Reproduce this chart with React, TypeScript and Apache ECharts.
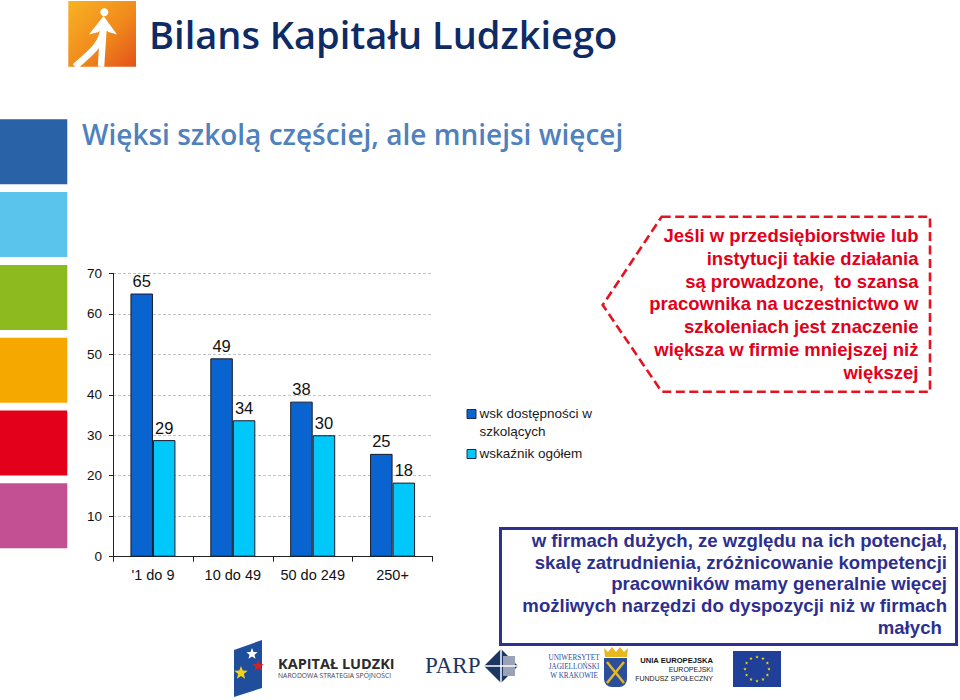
import React, { useEffect, useRef } from "react";
import * as echarts from "echarts";

const categories = ["'1 do 9", "10 do 49", "50 do 249", "250+"];
const seriesNames = ["wsk dostępności w szkolących", "wskaźnik ogółem"];
const wskDostepnosci = [65, 49, 38.3, 25.4];
const wskaznikOgolem = [28.8, 33.7, 30, 18.3];
const yMin = 0;
const yMax = 70;
const yInterval = 10;

const headerText = "Bilans Kapitału Ludzkiego";
const titleText = "Więksi szkolą częściej, ale mniejsi więcej";
const calloutLines = [
  "Jeśli w przedsiębiorstwie lub",
  "instytucji takie działania",
  "są prowadzone,  to szansa",
  "pracownika na uczestnictwo w",
  "szkoleniach jest znaczenie",
  "większa w firmie mniejszej niż",
  "większej",
];
const boxLines = [
  "w firmach dużych, ze względu na ich potencjał,",
  "skalę zatrudnienia, zróżnicowanie kompetencji",
  "pracowników mamy generalnie więcej",
  "możliwych narzędzi do dyspozycji niż w firmach",
  "małych ",
];
const stripColors = ["#2a62a8", "#5bc4ec", "#8cba1f", "#f5a800", "#e2001a", "#c45094"];

const BAR_DARK = "#0a64cf";
const BAR_LIGHT = "#00c8fa";
const SANS = "'Liberation Sans', Arial, sans-serif";
const HUMANIST = "'Open Sans', 'Noto Sans', sans-serif";

function starPoints(cx: number, cy: number, R: number, r: number, rot = -Math.PI / 2) {
  const pts: number[][] = [];
  for (let i = 0; i < 10; i++) {
    const a = rot + (i * Math.PI) / 5;
    const rad = i % 2 === 0 ? R : r;
    pts.push([cx + rad * Math.cos(a), cy + rad * Math.sin(a)]);
  }
  return pts;
}

function txt(text: string, x: number, y: number, opts: any = {}) {
  const align = opts.align || "left";
  const va = opts.va || "middle";
  return {
    type: "text",
    silent: true,
    style: {
      text,
      x,
      y,
      align,
      textAlign: align,
      verticalAlign: va,
      textVerticalAlign: va,
      fill: opts.fill || "#000",
      fontSize: opts.size || 13,
      fontWeight: opts.weight || "normal",
      fontFamily: opts.family || SANS,
      lineHeight: opts.lineHeight,
    },
  };
}

export default function App() {
  const ref = useRef<HTMLDivElement>(null);

  useEffect(() => {
    if (!ref.current) return;
    const chart = echarts.init(ref.current, null, { renderer: "svg" });

    const strips = stripColors.map((c, i) => ({
      type: "rect",
      silent: true,
      shape: { x: 0, y: 119.3 + i * 72.8, width: 67.3, height: 65 },
      style: { fill: c },
    }));

    const euStars: any[] = [];
    for (let i = 0; i < 12; i++) {
      const a = (i * Math.PI * 2) / 12;
      euStars.push({
        type: "polygon",
        silent: true,
        shape: { points: starPoints(757 + 12 * Math.cos(a), 669 + 12 * Math.sin(a), 1.8, 0.75) },
        style: { fill: "#ffdd00" },
      });
    }

    const elements: any[] = [
      ...strips,
      // header logo
      {
        type: "rect",
        silent: true,
        shape: { x: 68.3, y: 1, width: 67.7, height: 65.7 },
        style: {
          fill: new echarts.graphic.LinearGradient(0, 0, 1, 1, [
            { offset: 0, color: "#f8b323" },
            { offset: 0.55, color: "#f08a1c" },
            { offset: 1, color: "#e4521a" },
          ]),
        },
      },
      {
        type: "circle",
        silent: true,
        shape: { cx: 104.3, cy: 12.3, r: 4 },
        style: { fill: "#fff" },
      },
      {
        type: "polygon",
        silent: true,
        shape: {
          points: [
            [103.5, 16],
            [117, 34.5],
            [108.5, 32],
            [103.5, 28],
            [98.5, 32],
            [89, 34.5],
          ],
        },
        style: { fill: "#fff" },
      },
      {
        type: "bezierCurve",
        silent: true,
        shape: { x1: 103.5, y1: 27, x2: 75, y2: 66.7, cpx1: 103, cpy1: 46, cpx2: 86, cpy2: 56 },
        style: { stroke: "#fff", lineWidth: 6.5, fill: null },
      },
      {
        type: "line",
        silent: true,
        shape: { x1: 103.5, y1: 28, x2: 101, y2: 66.7 },
        style: { stroke: "#fff", lineWidth: 6.5 },
      },
      txt(headerText, 149, 34, { size: 38, weight: 600, fill: "#0e2b66", family: HUMANIST }),
      // title
      txt(titleText, 82, 134, { size: 28, weight: 600, fill: "#4f81bd", family: HUMANIST }),
      // legend
      {
        type: "rect",
        silent: true,
        shape: { x: 467, y: 409.5, width: 9, height: 9 },
        style: { fill: BAR_DARK, stroke: "#1a2a50", lineWidth: 1 },
      },
      txt("wsk dostępności w\nszkolących", 479.5, 405, { size: 13.5, fill: "#1a1a1a", va: "top", lineHeight: 17.5 }),
      {
        type: "rect",
        silent: true,
        shape: { x: 467, y: 449.5, width: 9, height: 9 },
        style: { fill: BAR_LIGHT, stroke: "#1a2a50", lineWidth: 1 },
      },
      txt("wskaźnik ogółem", 479.5, 453, { size: 13.5, fill: "#1a1a1a" }),
      // callout
      {
        type: "polygon",
        silent: true,
        shape: {
          points: [
            [661.7, 216.7],
            [930, 216.7],
            [930, 391.7],
            [661.7, 391.7],
            [602.7, 305],
          ],
        },
        style: { fill: "none", stroke: "#e3141f", lineWidth: 2.6, lineDash: [9, 4.5] },
      },
      txt(calloutLines.join("\n"), 918.5, 224, {
        align: "right",
        va: "top",
        size: 18.5,
        weight: "bold",
        fill: "#e2001a",
        lineHeight: 22.8,
      }),
      // box
      {
        type: "rect",
        silent: true,
        shape: { x: 500.5, y: 528.5, width: 456, height: 116 },
        style: { fill: "#fff", stroke: "#2e3192", lineWidth: 3 },
      },
      txt(boxLines.join("\n"), 947, 529.5, {
        align: "right",
        va: "top",
        size: 18.6,
        weight: "bold",
        fill: "#2d2f8e",
        lineHeight: 21.7,
      }),
      // footer: Kapitał Ludzki
      {
        type: "polygon",
        silent: true,
        shape: {
          points: [
            [234, 650],
            [262, 640],
            [262, 688],
            [234, 697],
          ],
        },
        style: { fill: "#1f4e9c" },
      },
      { type: "polygon", silent: true, shape: { points: starPoints(252, 654, 6, 2.6) }, style: { fill: "#ffffff" } },
      { type: "polygon", silent: true, shape: { points: starPoints(258, 666, 6, 2.6) }, style: { fill: "#d5202a" } },
      { type: "polygon", silent: true, shape: { points: starPoints(241, 673, 7, 3) }, style: { fill: "#f5d21a" } },
      txt("KAPITAŁ LUDZKI", 278, 663, { size: 14.5, weight: "bold", fill: "#2b2b2b", family: HUMANIST }),
      txt("NARODOWA STRATEGIA SPÓJNOŚCI", 278, 675.5, { size: 6.8, fill: "#444", family: HUMANIST }),
      // PARP
      txt("PARP", 425, 665, { size: 23, fill: "#1b3663", family: "'Liberation Serif', 'DejaVu Serif', serif" }),
      {
        type: "polygon",
        silent: true,
        shape: {
          points: [
            [501, 649],
            [518, 666],
            [501, 683],
            [484, 666],
          ],
        },
        style: { fill: "#1b3663" },
      },
      {
        type: "rect",
        silent: true,
        shape: { x: 503, y: 656, width: 12, height: 20 },
        style: { fill: "#9aa3b5" },
      },
      { type: "line", silent: true, shape: { x1: 484, y1: 666, x2: 518, y2: 666 }, style: { stroke: "#fff", lineWidth: 1.5 } },
      { type: "line", silent: true, shape: { x1: 501, y1: 649, x2: 501, y2: 683 }, style: { stroke: "#fff", lineWidth: 1.5 } },
      // UJ
      txt("UNIWERSYTET\nJAGIELLOŃSKI\nW KRAKOWIE", 574, 667, {
        align: "center",
        size: 7.2,
        fill: "#2b4d9a",
        family: "'Liberation Serif', 'DejaVu Serif', serif",
        lineHeight: 9,
      }),
      {
        type: "polygon",
        silent: true,
        shape: {
          points: [
            [604, 648],
            [608, 652],
            [612, 647],
            [616, 652],
            [620, 647],
            [624, 652],
            [628, 648],
            [627, 657],
            [605, 657],
          ],
        },
        style: { fill: "#e8b820" },
      },
      {
        type: "rect",
        silent: true,
        shape: { x: 604, y: 658, width: 23, height: 29, r: [0, 0, 8, 8] },
        style: { fill: "#2b4d9a" },
      },
      { type: "line", silent: true, shape: { x1: 607, y1: 662, x2: 624, y2: 683 }, style: { stroke: "#e8b820", lineWidth: 2.5 } },
      { type: "line", silent: true, shape: { x1: 624, y1: 662, x2: 607, y2: 683 }, style: { stroke: "#e8b820", lineWidth: 2.5 } },
      // EU
      txt("UNIA EUROPEJSKA", 713, 660, { align: "right", size: 7.6, weight: "bold", fill: "#111" }),
      txt("EUROPEJSKI", 713, 669.5, { align: "right", size: 7, fill: "#222" }),
      txt("FUNDUSZ SPOŁECZNY", 713, 678.5, { align: "right", size: 7, fill: "#222" }),
      {
        type: "rect",
        silent: true,
        shape: { x: 733, y: 651, width: 48, height: 36 },
        style: { fill: "#1f3f99" },
      },
      ...euStars,
    ];

    const labelCfg = {
      show: true,
      position: "top",
      distance: 4,
      color: "#111",
      fontSize: 16.5,
      fontFamily: SANS,
      formatter: (p: any) => String(Math.round(p.value)),
    };

    chart.setOption({
      animation: false,
      backgroundColor: "#ffffff",
      grid: { left: 113, top: 273.3, width: 319.5, height: 283.4, containLabel: false },
      xAxis: {
        type: "category",
        data: categories,
        axisLine: { show: true, lineStyle: { color: "#222", width: 1 } },
        axisTick: { show: true, length: 5, lineStyle: { color: "#222" } },
        axisLabel: { color: "#111", fontSize: 14.5, fontFamily: SANS, margin: 11, interval: 0, hideOverlap: false },
        splitLine: { show: false },
      },
      yAxis: {
        type: "value",
        min: yMin,
        max: yMax,
        interval: yInterval,
        axisLine: { show: true, lineStyle: { color: "#222", width: 1 } },
        axisTick: { show: true, length: 4, lineStyle: { color: "#222" } },
        axisLabel: { color: "#111", fontSize: 13.5, fontFamily: SANS, margin: 11 },
        splitLine: { show: true, lineStyle: { color: "#c4c4c4", type: [3, 2], width: 1 } },
      },
      series: [
        {
          name: seriesNames[0],
          type: "bar",
          data: wskDostepnosci,
          barWidth: 22.5,
          barGap: "0%",
          itemStyle: { color: BAR_DARK, borderColor: "#1a1a2a", borderWidth: 1 },
          label: labelCfg,
        },
        {
          name: seriesNames[1],
          type: "bar",
          data: wskaznikOgolem,
          barWidth: 22.5,
          barGap: "0%",
          itemStyle: { color: BAR_LIGHT, borderColor: "#1a1a2a", borderWidth: 1 },
          label: labelCfg,
        },
      ],
      graphic: { elements },
    });

    return () => chart.dispose();
  }, []);

  return (
    <div
      ref={ref}
      style={{ position: "absolute", left: 0, top: 0, width: 960, height: 700, background: "#fff" }}
    />
  );
}
